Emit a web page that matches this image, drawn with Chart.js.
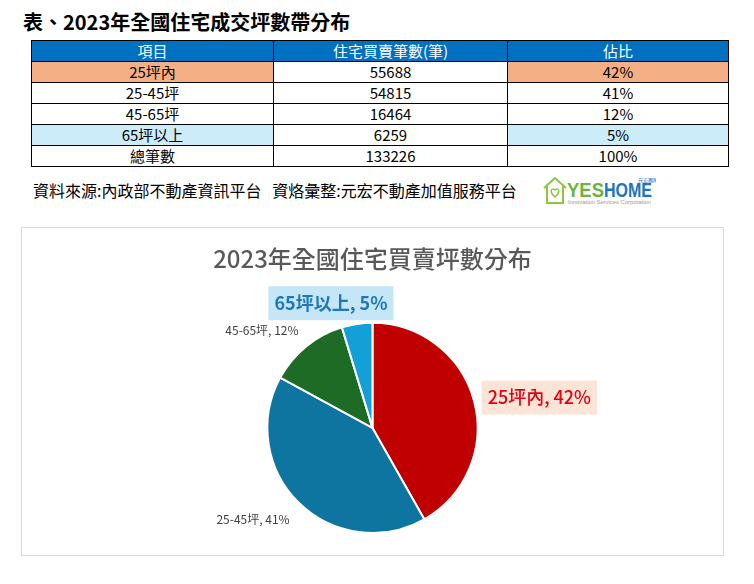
<!DOCTYPE html>
<html>
<head>
<meta charset="utf-8">
<script src="https://cdn.jsdelivr.net/npm/chart.js"></script>
<style>
  body { margin: 0; background: #fff; width: 754px; height: 584px; position: relative; overflow: hidden;
         font-family: "Noto Sans CJK TC", "Noto Sans", sans-serif; }
  #heading { position: absolute; left: 23px; top: 7px; font-size: 20px; font-weight: bold; color: #000; }
  #tbl { position: absolute; left: 31px; top: 40px; border-collapse: collapse; font-size: 15px; }
  #tbl td, #tbl th { border: 1px solid #000; height: 20px; padding: 0; text-align: center; font-weight: normal; line-height: 20px; }
  #tbl th { background: #0070C0; color: #fff; }
  #source { position: absolute; left: 33px; top: 178px; font-size: 16px; color: #000; }
  #logo { position: absolute; left: 541px; top: 175px; }
  #box { position: absolute; left: 21px; top: 227px; width: 703px; height: 329px; border: 1px solid #d9d9d9; box-sizing: border-box; }
</style>
</head>
<body>
<div id="heading">表、2023年全國住宅成交坪數帶分布</div>
<table id="tbl"></table>
<div id="source">資料來源:內政部不動產資訊平台&nbsp;&nbsp;&nbsp;資烙彙整:元宏不動產加值服務平台</div>
<svg id="logo" width="115" height="32" viewBox="0 0 115 32">
  <path d="M3 13 L14 3 L25 13 M6 11 V28 H22 V11" fill="none" stroke="#8DC63F" stroke-width="2"/>
  <path d="M14 22 C8 17 10 12 14 15 C18 12 20 17 14 22 Z" fill="none" stroke="#8DC63F" stroke-width="1.5"/>
  <text x="26" y="22" font-family="Liberation Sans, Arial" font-weight="bold" font-size="21" textLength="37" lengthAdjust="spacingAndGlyphs" fill="#6DB33F">YES</text>
  <text x="63" y="22" font-family="Liberation Sans, Arial" font-weight="bold" font-size="21" textLength="48" lengthAdjust="spacingAndGlyphs" fill="#1C75BC">HOME</text>
  <text x="97" y="7" font-family="Noto Sans CJK TC" font-size="5" fill="#1C75BC">元宏團隊</text>
  <text x="27" y="29" font-family="Liberation Sans, Arial" font-size="5" textLength="83" lengthAdjust="spacingAndGlyphs" fill="#999">Innovation Services Corporation</text>
</svg>
<div id="box"><canvas id="pie" width="701" height="327"></canvas></div>

<script>
// table data
const headers = ['項目', '住宅買賣筆數(筆)', '佔比'];
const categories = ['25坪內', '25-45坪', '45-65坪', '65坪以上'];
const counts = [55688, 54815, 16464, 6259];
const shares = ['42%', '41%', '12%', '5%'];
const totalLabel = '總筆數';
const totalCount = 133226;
const totalShare = '100%';

// styles
const rowColors = ['#F4B084', '#fff', '#fff', '#CCECFA'];
const sliceColors = ['#C00000', '#0E74A0', '#1D6B24', '#12A0D7'];

// build the table
const tbl = document.getElementById('tbl');
const colWidths = [241, 233, 220];
let html = '<tr>' + headers.map((h, i) => `<th style="width:${colWidths[i]}px">${h}</th>`).join('') + '</tr>';
categories.forEach((c, i) => {
  const bg = rowColors[i];
  html += `<tr><td style="background:${bg}">${c}</td><td>${counts[i]}</td><td style="background:${bg}">${shares[i]}</td></tr>`;
});
html += `<tr><td>${totalLabel}</td><td>${totalCount}</td><td>${totalShare}</td></tr>`;
tbl.innerHTML = html;

// label look for each slice
const labelStyles = [
  { d: 14, shift: 0, align: 'left', font: '500 18px "Noto Sans CJK TC"', color: '#E60012', bg: '#FCE4D6' },
  { d: 23, shift: 7, align: 'right', font: '12px "Noto Sans CJK TC"', color: '#404040', bg: null },
  { d: 20, shift: 5, align: 'right', font: '12px "Noto Sans CJK TC"', color: '#404040', bg: null },
  { d: 21, shift: -23, align: 'center', font: 'bold 18px "Noto Sans CJK TC"', color: '#1F78B9', bg: '#C5E6F6' }
];

const sliceLabels = {
  id: 'sliceLabels',
  afterDatasetsDraw(chart) {
    const ctx = chart.ctx;
    const arcs = chart.getDatasetMeta(0).data;
    arcs.forEach((arc, i) => {
      const p = arc.getProps(['x', 'y', 'startAngle', 'endAngle', 'outerRadius'], true);
      const mid = (p.startAngle + p.endAngle) / 2;
      const st = labelStyles[i];
      const x = p.x + Math.cos(mid) * (p.outerRadius + st.d) + st.shift;
      const y = p.y + Math.sin(mid) * (p.outerRadius + st.d);
      const text = categories[i] + ', ' + shares[i];
      ctx.save();
      ctx.font = st.font;
      const w = ctx.measureText(text).width;
      let left = x;
      if (st.align === 'right') left = x - w;
      if (st.align === 'center') left = x - w / 2;
      if (st.bg) {
        ctx.fillStyle = st.bg;
        ctx.fillRect(left - 6, y - 17, w + 12, 34);
      }
      ctx.fillStyle = st.color;
      ctx.textAlign = 'left';
      ctx.textBaseline = 'middle';
      ctx.fillText(text, left, y);
      ctx.restore();
    });
  }
};

new Chart(document.getElementById('pie'), {
  type: 'pie',
  data: {
    labels: categories,
    datasets: [{
      data: counts,
      backgroundColor: sliceColors,
      borderColor: '#fff',
      borderWidth: 2
    }]
  },
  options: {
    responsive: false,
    animation: false,
    layout: { padding: { top: 0, bottom: 21 } },
    plugins: {
      legend: { display: false },
      tooltip: { enabled: false },
      title: {
        display: true,
        text: '2023年全國住宅買賣坪數分布',
        color: '#595959',
        font: { family: '"Noto Sans CJK TC"', size: 24, weight: '500' },
        padding: { top: 16, bottom: 49 }
      }
    }
  },
  plugins: [sliceLabels]
});
</script>
</body>
</html>
